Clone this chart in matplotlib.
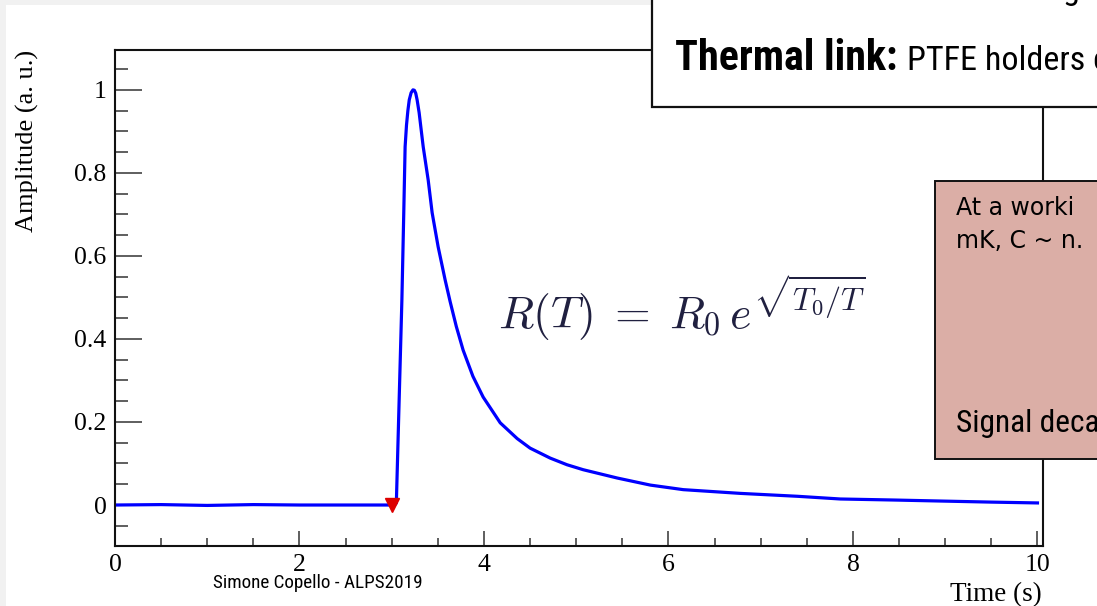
import numpy as np
import matplotlib.pyplot as plt
from matplotlib.patches import Rectangle
from matplotlib.ticker import MultipleLocator

# --- pulse trace (time in s, amplitude normalised to the peak) ---
time_s = [0.0, 0.5, 1.0, 1.5, 2.0, 2.5, 3.0, 3.03, 3.05, 3.08, 3.11, 3.13,
          3.145, 3.16, 3.175, 3.19, 3.21, 3.23, 3.245, 3.26, 3.275, 3.297,
          3.341, 3.395, 3.438, 3.503, 3.579, 3.633, 3.70, 3.774, 3.88, 3.991,
          4.176, 4.36, 4.5, 4.718, 4.9, 5.076, 5.445, 5.803, 6.16, 6.78, 7.40,
          7.863, 8.45, 8.948, 9.5, 10.0]
amplitude = [0.0, 0.001, -0.001, 0.001, 0.0, 0.0, 0.0, 0.0, 0.005, 0.25,
             0.494, 0.70, 0.863, 0.915, 0.95, 0.976, 0.993, 1.0, 0.999, 0.992,
             0.976, 0.945, 0.863, 0.783, 0.704, 0.622, 0.542, 0.49, 0.43,
             0.373, 0.31, 0.260, 0.198, 0.160, 0.137, 0.113, 0.097, 0.085,
             0.065, 0.048, 0.037, 0.028, 0.021, 0.0145, 0.012, 0.0096, 0.007,
             0.005]
trigger_time = [3.0]
trigger_amp = [0.0]

W, H = 1097, 606
fig = plt.figure(figsize=(W / 100, H / 100), dpi=100, facecolor='#f1f1f1')


def fx(x):
    return x / W


def fy(y):
    return 1 - y / H


narrow = dict(family=['Roboto Condensed', 'DejaVu Sans'], stretch='condensed')

# white slide area
fig.add_artist(Rectangle((fx(6), 0), 1, fy(5), transform=fig.transFigure,
                         facecolor='white', edgecolor='none', zorder=0))

ax = fig.add_axes([fx(115), fy(545.7), fx(1043) - fx(115), fy(50) - fy(545.7)])
ax.set_facecolor('white')
ax.plot(time_s, amplitude, color='#0000ff', lw=2.3, solid_joinstyle='round')
ax.plot(trigger_time, trigger_amp, marker='v', color='#dd0000', ms=10,
        ls='none', zorder=3)

ax.set_xlim(0, 10.06)
ax.set_ylim(-0.098, 1.096)
ax.xaxis.set_major_locator(MultipleLocator(2))
ax.xaxis.set_minor_locator(MultipleLocator(0.5))
ax.yaxis.set_major_locator(MultipleLocator(0.2))
ax.yaxis.set_minor_locator(MultipleLocator(0.05))
ax.xaxis.set_major_formatter(plt.FuncFormatter(lambda v, p: f'{v:g}'))
ax.yaxis.set_major_formatter(plt.FuncFormatter(lambda v, p: f'{v:g}'))

for s in ax.spines.values():
    s.set_linewidth(1.5)
    s.set_color('#111111')

ax.tick_params(axis='both', which='both', direction='in', color='#333333',
               width=1.1, labelsize=18.5, labelfontfamily='Liberation Serif')
ax.tick_params(axis='y', which='major', length=19.5, pad=6)
ax.tick_params(axis='y', which='minor', length=9.5)
ax.tick_params(axis='x', which='major', length=10.8, pad=6)
ax.tick_params(axis='x', which='minor', length=5.8)

fig.text(fx(27), fy(50), 'Amplitude (a. u.)', rotation=90, ha='center',
         va='top', fontsize=19, family='Liberation Serif')
fig.text(fx(1042), fy(601), 'Time (s)', ha='right', va='baseline',
         fontsize=19.5, family='Liberation Serif')

# resistance law
ax.text(0.4127, 0.437, r'$R(T)\;=\;R_0\,e^{\sqrt{T_0/T}}$',
        transform=ax.transAxes, fontsize=33, color='#202040',
        math_fontfamily='cm', ha='left', va='baseline')

# footer
footer = fig.text(fx(213), fy(588), 'Simone Copello - ALPS2019', ha='left',
                  va='baseline', fontsize=14, **narrow)

# slide boxes on top of the plot
fig.add_artist(Rectangle((fx(652), fy(107)), 1, 1, transform=fig.transFigure,
                         facecolor='white', edgecolor='#111111', lw=1.6,
                         zorder=5))
g_tail = fig.text(fx(1062), fy(-1), 'g', fontsize=27, va='baseline', zorder=6,
                  **narrow)
link_head = fig.text(fx(675), fy(70), 'Thermal link:', fontsize=27,
                     weight='bold', va='baseline', zorder=6, **narrow)
link_body = fig.text(fx(907), fy(70), 'PTFE holders c', fontsize=27,
                     va='baseline', zorder=6, **narrow)

fig.add_artist(Rectangle((fx(935), fy(458.5)), 1, fy(181) - fy(458.5),
                         transform=fig.transFigure, facecolor='#dbaea6',
                         edgecolor='#111111', lw=1.4, zorder=5))
fig.text(fx(956), fy(215), 'At a worki', fontsize=17, family='DejaVu Sans',
         va='baseline', zorder=6)
fig.text(fx(956), fy(248), 'mK, C ~ n.', fontsize=17, family='DejaVu Sans',
         va='baseline', zorder=6)
decay = fig.text(fx(956), fy(432), 'Signal decay', fontsize=21, va='baseline',
                 zorder=6, **narrow)

# size the narrow slide texts to their widths on the slide
fig.canvas.draw()
renderer = fig.canvas.get_renderer()
for t, width in [(footer, 211), (link_head, 223), (link_body, 202),
                 (decay, 157)]:
    bb = t.get_window_extent(renderer)
    t.set_fontsize(t.get_fontsize() * width / bb.width)
g_tail.set_fontsize(link_body.get_fontsize())

fig.savefig('out.png', dpi=100, facecolor=fig.get_facecolor())
